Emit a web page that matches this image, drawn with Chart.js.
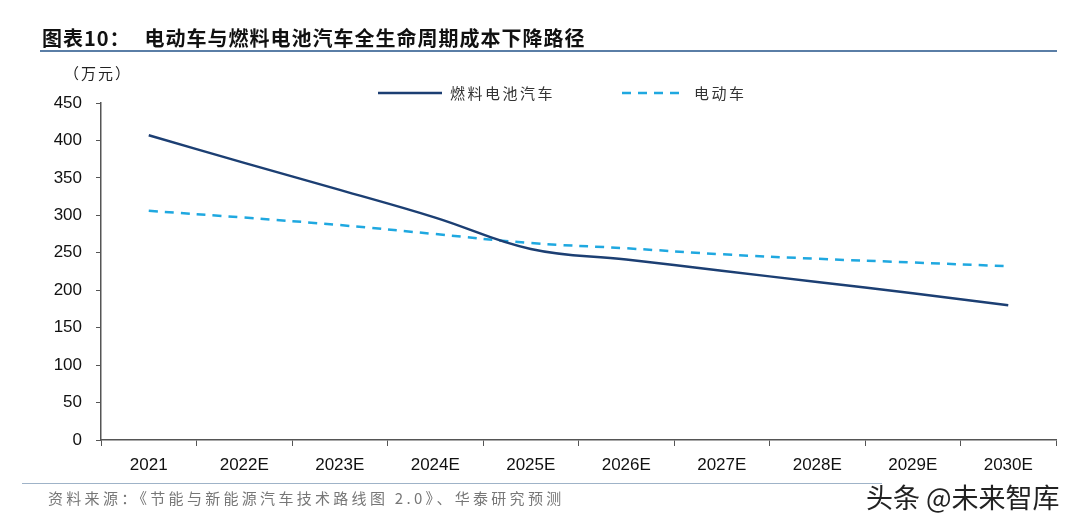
<!DOCTYPE html>
<html>
<head>
<meta charset="utf-8">
<script src="https://cdn.jsdelivr.net/npm/chart.js@4/dist/chart.umd.min.js"></script>
<style>
    html, body { margin: 0; padding: 0; background: #fff; }
    #wrap { position: relative; width: 1080px; height: 525px; }
    #title { position: absolute; left: 42px; top: 23px; font: bold 20px "Noto Sans CJK SC", sans-serif; color: #111; letter-spacing: 1px; white-space: nowrap; }
    #title span { margin-left: 14px; }
    #titleLine { position: absolute; left: 40px; top: 50px; width: 1017px; height: 2px; background: #5a7ea6; }
    #unit { position: absolute; left: 64px; top: 62px; font: 15px "Noto Sans CJK SC", sans-serif; color: #222; letter-spacing: 2px; }
    #footLine { position: absolute; left: 22px; top: 483px; width: 860px; height: 1px; background: #9fb3c8; }
    #source { position: absolute; left: 48px; top: 487px; font: 15px "Noto Sans CJK SC", sans-serif; color: #777; letter-spacing: 3.3px; white-space: nowrap; }
    #mark { position: absolute; left: 866px; top: 477px; font: 27px "Noto Sans CJK SC", sans-serif; color: #222; white-space: nowrap; }
</style>
</head>
<body>
<div id="wrap">
    <canvas id="costChart" width="1080" height="525"></canvas>
    <div id="title">图表10：<span>电动车与燃料电池汽车全生命周期成本下降路径</span></div>
    <div id="titleLine"></div>
    <div id="unit">（万元）</div>
    <div id="footLine"></div>
    <div id="source">资料来源：《节能与新能源汽车技术路线图 2.0》、华泰研究预测</div>
    <div id="mark">头条 @未来智库</div>
</div>
<script>
const years = ['2021', '2022E', '2023E', '2024E', '2025E', '2026E', '2027E', '2028E', '2029E', '2030E'];
const fuelCell = [407, 370, 334, 297, 255, 241, 226, 211, 196, 180];
const electric = [306, 297, 287, 275, 263, 256, 248, 242, 237, 232];
const seriesNames = ['燃料电池汽车', '电动车'];

// Legend drawn by hand so it sits where the original puts it
const legendPlugin = {
    id: 'legendLine',
    afterDraw(chart) {
        const ctx = chart.ctx;
        const items = [
            { x: 378, name: seriesNames[0], color: '#1c3f73', dash: [] },
            { x: 622, name: seriesNames[1], color: '#1fa8e0', dash: [9, 7] }
        ];
        ctx.save();
        items.forEach(it => {
            ctx.strokeStyle = it.color;
            ctx.lineWidth = 2.5;
            ctx.setLineDash(it.dash);
            ctx.beginPath();
            ctx.moveTo(it.x, 93);
            ctx.lineTo(it.x + 64, 93);
            ctx.stroke();
            ctx.setLineDash([]);
            ctx.fillStyle = '#333';
            ctx.font = '15px "Noto Sans CJK SC", sans-serif';
            ctx.letterSpacing = '2.5px';
            ctx.textBaseline = 'middle';
            ctx.fillText(it.name, it.x + 72, 93);
        });
        ctx.restore();
    }
};

new Chart(document.getElementById('costChart'), {
    type: 'line',
    data: {
        labels: years,
        datasets: [
            {
                label: seriesNames[0],
                data: fuelCell,
                borderColor: '#1c3f73',
                borderWidth: 2.5,
                pointRadius: 0,
                tension: 0.4
            },
            {
                label: seriesNames[1],
                data: electric,
                borderColor: '#1fa8e0',
                borderWidth: 2.5,
                borderDash: [9, 7],
                pointRadius: 0,
                tension: 0.4
            }
        ]
    },
    options: {
        responsive: false,
        animation: false,
        layout: { padding: { top: 103, right: 24, left: 0, bottom: 0 } },
        plugins: { legend: { display: false }, tooltip: { enabled: false } },
        scales: {
            x: {
                offset: true,
                afterFit: s => { s.height = 85; },
                grid: { offset: true, drawOnChartArea: false, tickLength: 6, color: '#555' },
                border: { color: '#555', width: 1.5 },
                ticks: { color: '#111', font: { family: '"Liberation Sans", Arial', size: 17 }, padding: 9, maxRotation: 0 }
            },
            y: {
                min: 0,
                max: 450,
                afterFit: s => { s.width = 101; },
                grid: { drawOnChartArea: false, tickLength: 5, color: '#555' },
                border: { color: '#555', width: 1.5 },
                ticks: { stepSize: 50, color: '#111', font: { family: '"Liberation Sans", Arial', size: 17 }, padding: 14 }
            }
        }
    },
    plugins: [legendPlugin]
});
</script>
</body>
</html>
